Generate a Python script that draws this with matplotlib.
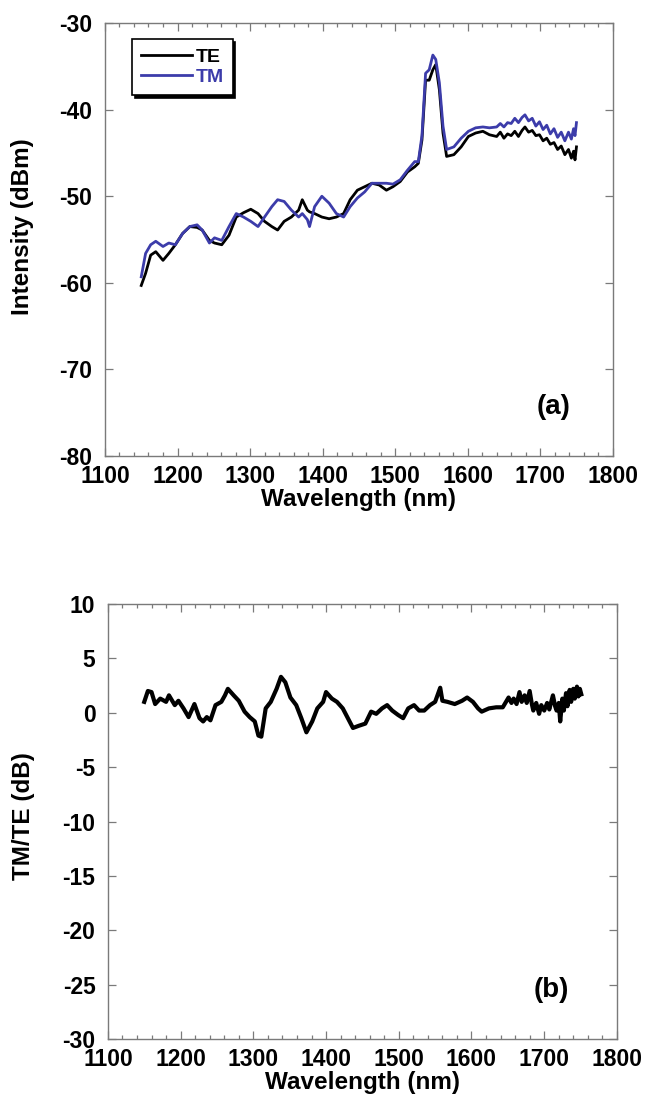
"""TE/TM intensity spectra and TM/TE polarisation ratio (two stacked panels)."""

import matplotlib

matplotlib.use("Agg")
import matplotlib.pyplot as plt
from matplotlib.ticker import MultipleLocator

plt.rcParams["font.family"] = ["Liberation Sans", "DejaVu Sans"]
plt.rcParams["font.weight"] = "bold"
plt.rcParams["axes.unicode_minus"] = False

# panel (a): spectra
wl_a = [1150, 1156, 1163, 1170, 1180, 1188, 1197, 1207, 1217, 1227, 1234, 1244, 1251, 1261,
        1271, 1281, 1291, 1301, 1311, 1320, 1330, 1338, 1347, 1357, 1367, 1372, 1379, 1382,
        1389, 1399, 1409, 1419, 1429, 1438, 1448, 1458, 1468, 1478, 1488, 1497, 1507, 1517,
        1527, 1532, 1537, 1542, 1547, 1552, 1556, 1561, 1566, 1571, 1581, 1591, 1601, 1611,
        1621, 1630, 1640, 1645, 1650, 1655, 1660, 1665, 1670, 1675, 1679, 1684, 1689, 1694,
        1699, 1704, 1709, 1714, 1719, 1724, 1729, 1734, 1739, 1743, 1746, 1748, 1750]
te = [-60.3, -58.9, -56.8, -56.4, -57.4, -56.6, -55.6, -54.3, -53.5, -53.6, -53.9, -55.1,
      -55.4, -55.6, -54.5, -52.4, -51.9, -51.5, -52.0, -52.9, -53.5, -53.9, -52.9, -52.4,
      -51.6, -50.4, -51.6, -51.8, -52.0, -52.4, -52.6, -52.4, -52.0, -50.4, -49.3, -48.9,
      -48.5, -48.7, -49.3, -48.9, -48.3, -47.2, -46.6, -46.2, -43.5, -36.6, -36.6, -35.4,
      -34.8, -37.7, -42.7, -45.4, -45.2, -44.3, -43.1, -42.7, -42.5, -42.9, -43.1, -42.6,
      -43.3, -42.8, -43.0, -42.5, -43.1, -42.4, -42.0, -42.6, -42.4, -43.0, -42.9, -43.6,
      -43.3, -44.0, -43.8, -44.6, -44.2, -45.2, -44.6, -45.6, -44.8, -45.8, -44.3]
tm = [-59.3, -56.6, -55.6, -55.2, -55.8, -55.4, -55.6, -54.3, -53.5, -53.3, -53.9, -55.4,
      -54.8, -55.1, -53.5, -52.0, -52.4, -52.9, -53.5, -52.4, -51.2, -50.4, -50.6, -51.6,
      -52.4, -52.0, -52.7, -53.5, -51.2, -50.0, -50.8, -52.0, -52.4, -51.2, -50.2, -49.5,
      -48.5, -48.5, -48.5, -48.6, -48.1, -47.0, -46.0, -46.0, -43.0, -35.8, -35.4, -33.7,
      -34.2, -36.9, -41.9, -44.6, -44.3, -43.3, -42.5, -42.1, -42.0, -42.1, -42.0, -41.6,
      -42.0, -41.5, -41.6, -41.0, -41.5, -40.9, -40.6, -41.3, -41.0, -41.9, -41.4, -42.3,
      -41.8, -42.8, -42.2, -43.2, -42.6, -43.6, -42.6, -43.4, -42.2, -43.0, -41.5]

# panel (b): TM/TE ratio
wl_b = [1150, 1155, 1160, 1165, 1172, 1180, 1184, 1192, 1197, 1204, 1211, 1219, 1226, 1231,
        1236, 1241, 1248, 1256, 1261, 1265, 1273, 1280, 1288, 1295, 1302, 1307, 1311, 1317,
        1324, 1332, 1338, 1344, 1351, 1359, 1366, 1373, 1381, 1388, 1396, 1400, 1408, 1415,
        1423, 1430, 1437, 1445, 1454, 1462, 1469, 1477, 1484, 1491, 1499, 1506, 1513, 1521,
        1528, 1535, 1543, 1550, 1557, 1560, 1567, 1577, 1587, 1594, 1602, 1609, 1614, 1624,
        1634, 1643, 1651, 1655, 1658, 1662, 1666, 1669, 1673, 1676, 1680, 1683, 1685, 1689,
        1693, 1696, 1700, 1704, 1707, 1710, 1712, 1715, 1717, 1720, 1722, 1725, 1727, 1730,
        1732, 1735, 1737, 1740, 1742, 1745, 1747, 1749, 1751]
ratio = [1.0, 2.0, 1.9, 0.8, 1.3, 1.0, 1.6, 0.7, 1.1, 0.4, -0.4, 0.8, -0.5, -0.8, -0.4,
         -0.7, 0.7, 1.0, 1.6, 2.2, 1.6, 1.1, 0.1, -0.4, -0.8, -2.1, -2.2, 0.4, 1.0, 2.2, 3.3,
         2.8, 1.4, 0.7, -0.5, -1.8, -0.8, 0.4, 1.0, 1.9, 1.3, 1.0, 0.4, -0.5, -1.4, -1.2,
         -1.0, 0.1, -0.1, 0.4, 0.7, 0.2, -0.2, -0.5, 0.4, 0.7, 0.2, 0.2, 0.7, 1.0, 2.3, 1.1,
         1.0, 0.8, 1.1, 1.4, 1.0, 0.4, 0.1, 0.4, 0.5, 0.5, 1.4, 0.9, 1.3, 0.8, 1.9, 1.0, 1.6,
         0.9, 2.0, 0.8, 0.2, 0.9, -0.1, 0.7, 0.2, 0.9, 0.3, 1.1, 1.6, 0.6, 0.2, 0.9, -0.8,
         1.3, 0.2, 1.8, 0.6, 2.1, 1.0, 2.2, 1.3, 2.4, 1.5, 2.2, 1.7]

GREY = "#7a7a7a"
BLUE = "#3c3caa"


def style_axis(ax, ymin, ymax, ystep):
    ax.set_xlim(1100, 1800)
    ax.set_ylim(ymin, ymax)
    ax.xaxis.set_major_locator(MultipleLocator(100))
    ax.xaxis.set_minor_locator(MultipleLocator(20))
    ax.yaxis.set_major_locator(MultipleLocator(ystep))
    for sp in ax.spines.values():
        sp.set_color(GREY)
        sp.set_linewidth(1.0)
    ax.tick_params(which="both", direction="in", top=True, right=True, color=GREY, width=0.9)
    ax.tick_params(which="major", length=6, labelsize=16.5)
    ax.tick_params(which="minor", length=3)
    ax.tick_params(axis="x", pad=6.5)
    ax.tick_params(axis="y", pad=9)
    ax.set_xlabel("Wavelength (nm)", fontsize=17.5, fontweight="bold", labelpad=0)


fig = plt.figure(figsize=(6.46, 11.07), dpi=100)
ax1 = fig.add_axes([0.1625, 0.588, 0.786, 0.3912])
ax2 = fig.add_axes([0.167, 0.0614, 0.788, 0.393])

ax1.plot(wl_a, te, color="black", lw=2.0, label="TE")
ax1.plot(wl_a, tm, color=BLUE, lw=2.0, label="TM")
style_axis(ax1, -80, -30, 10)
ax1.set_ylabel("Intensity (dBm)", fontsize=17.5, fontweight="bold")
ax1.yaxis.set_label_coords(-0.140, 0.529)
leg = ax1.legend(loc="upper left", bbox_to_anchor=(0.035, 0.985), fontsize=14, frameon=True,
                 fancybox=False, shadow={"color": "black", "alpha": 1.0}, handlelength=2.6,
                 handletextpad=0.2, borderpad=0.45, labelspacing=0.15)
leg.get_frame().set_edgecolor("black")
leg.get_frame().set_linewidth(1.2)
for txt, col in zip(leg.get_texts(), ["black", BLUE]):
    txt.set_color(col)
    txt.set_fontweight("bold")
ax1.text(1719, -74.3, "(a)", fontsize=20, fontweight="bold", ha="center", va="center")

ax2.plot(wl_b, ratio, color="black", lw=3.0)
style_axis(ax2, -30, 10, 5)
ax2.set_ylabel("TM/TE (dB)", fontsize=17.5, fontweight="bold")
ax2.yaxis.set_label_coords(-0.143, 0.513)
ax2.text(1710, -25.5, "(b)", fontsize=20, fontweight="bold", ha="center", va="center")

fig.savefig("out.png", dpi=100)
